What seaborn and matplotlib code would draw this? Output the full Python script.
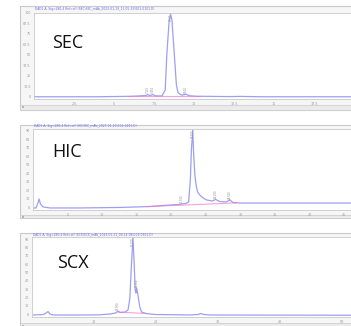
import numpy as np
import matplotlib
matplotlib.use("Agg")
import matplotlib.pyplot as plt
from matplotlib.patches import Rectangle
import seaborn as sns

# ---- chromatogram traces (time in min, signal in mAU) ----
sec_time = [0.0, 4.0, 6.0, 6.6, 7.0, 7.1, 7.25, 7.45, 7.6, 8.0, 8.2, 8.3, 8.44, 8.53,
            8.62, 8.75, 8.9, 9.0, 9.2, 9.4, 9.5, 9.7, 10.1, 12.2, 12.9, 14.1, 20.5]
sec_signal = [0.0, 0.0, 0.5, 1.0, 1.5, 2.5, 1.5, 2.5, 1.0, 1.0, 8.0, 50.0, 89.0, 99.0,
              92.0, 56.0, 14.0, 5.0, 2.0, 2.5, 3.0, 1.2, 0.6, 0.2, 0.4, 0.0, 0.0]

hic_time = [0.0, 0.43, 0.72, 0.87, 1.08, 1.45, 2.46, 6.8, 12.6, 16.9, 19.8, 21.2, 21.5,
            22.1, 22.5, 22.75, 22.9, 23.1, 23.2, 23.4, 23.6, 23.8, 24.1, 24.6, 25.1,
            25.9, 26.4, 27.0, 27.9, 28.5, 28.9, 29.9, 38.6, 47.0]
hic_signal = [-0.8, -0.8, 5.0, 9.8, 3.9, 0.4, -0.8, -0.8, -0.2, 0.9, 2.7, 3.3, 3.9,
              4.5, 6.2, 32.0, 67.0, 91.0, 67.0, 38.0, 25.0, 18.0, 14.5, 10.9, 8.6,
              7.4, 9.2, 6.8, 6.2, 8.6, 5.6, 5.0, 5.0, 5.0]

scx_time = [0.16, 1.9, 2.26, 2.6, 2.9, 3.4, 7.7, 11.0, 12.6, 13.5, 13.9, 14.2, 15.0,
            15.5, 15.8, 16.05, 16.3, 16.5, 16.66, 16.77, 16.9, 17.1, 17.4, 17.7, 18.4,
            19.8, 25.5, 26.8, 27.3, 27.7, 28.7, 53.0]
scx_signal = [-0.8, -0.2, 1.6, 3.3, 0.4, -0.8, -0.8, -0.6, 0.4, 1.6, 3.9, 2.2, 2.7,
              5.1, 19.5, 59.0, 91.8, 59.0, 29.0, 25.4, 31.4, 23.0, 8.7, 2.7, 1.0,
              -0.2, -0.8, -0.2, 1.0, -0.2, -0.8, -1.1]

# integration baselines (start/end time, signal)
sec_base_time, sec_base_signal = [5.9, 10.4], [0.3, 0.3]
hic_base_time, hic_base_signal = [16.5, 29.5], [0.8, 5.2]
scx_base_time, scx_base_signal = [13.9, 18.4], [2.6, 1.0]

# integrated peaks (retention times)
sec_peaks = [7.1, 7.45, 8.53, 9.5]
hic_peaks = [21.5, 23.1, 26.4, 28.5]
scx_peaks = [13.9, 16.3, 16.9]

# axis ticks
sec_xticks = [2.5, 5, 7.5, 10, 12.5, 15, 17.5]
sec_yticks = [0, 12.5, 25, 37.5, 50, 62.5, 75, 87.5, 100]
hic_xticks = [5, 10, 15, 20, 25, 30, 35, 40, 45]
hic_yticks = [0, 10, 20, 30, 40, 50, 60, 70, 80, 90]
scx_xticks = [10, 20, 30, 40, 50]
scx_yticks = [0, 10, 20, 30, 40, 50, 60, 70, 80, 90]

names = ["SEC", "HIC", "SCX"]
headers = [
    "DAD1 A, Sig=280,4 Ref=off (SEC\\SEC_mAb_2023-01-19_11-05-32\\001-0101.D)",
    "DAD1 A, Sig=280,4 Ref=off (HIC\\HIC_mAb_2023-01-20\\002-0201.D)",
    "DAD1 A, Sig=280,4 Ref=off (SCX\\SCX_mAb_2023-01-21_09-14-08\\003-0301.D)",
]

sns.set_style("white")
plt.rcParams["font.family"] = ["Open Sans", "DejaVu Sans"]

W, H = 351, 326
fig = plt.figure(figsize=(W / 100, H / 100), dpi=100)


def box(x0, y0, x1, y1):
    """Pixel box (top-left origin) -> figure fraction rect."""
    return [x0 / W, 1 - y1 / H, (x1 - x0) / W, (y1 - y0) / H]


bg = fig.add_axes([0, 0, 1, 1], zorder=0)
bg.set_xlim(0, W)
bg.set_ylim(H, 0)
bg.axis("off")

# layout of each window: frame, plot box, header y, scroll band, label position, limits
layout = [
    dict(frame=(20, 6, 358, 110), plot=(34, 13, 354, 99), head_y=9.3, scroll=(20, 104.5, 358, 110),
         label=(52, 43), xlim=(0, 20), ylim=(-2.7, 100)),
    dict(frame=(20, 125, 358, 218), plot=(33, 129, 356, 210), head_y=126.2, scroll=(20, 215, 358, 218),
         label=(52, 152), xlim=(0, 46.7), ylim=(-3.2, 92)),
    dict(frame=(20, 233, 358, 330), plot=(32, 237, 356, 317), head_y=234.6, scroll=(20, 322.5, 358, 330),
         label=(57, 263), xlim=(0, 52.3), ylim=(-3.2, 92.4)),
]

traces = [(sec_time, sec_signal), (hic_time, hic_signal), (scx_time, scx_signal)]
bases = [(sec_base_time, sec_base_signal), (hic_base_time, hic_base_signal),
         (scx_base_time, scx_base_signal)]
peaks = [sec_peaks, hic_peaks, scx_peaks]
xticks = [sec_xticks, hic_xticks, scx_xticks]
yticks = [sec_yticks, hic_yticks, scx_yticks]

frame_edge = "#c9c9c9"
trace_color = "#9494f2"
base_color = "#f07ad0"
tick_color = "#9a9a9a"

for i, lay in enumerate(layout):
    fx0, fy0, fx1, fy1 = lay["frame"]
    bg.add_patch(Rectangle((fx0, fy0), fx1 - fx0, fy1 - fy0, facecolor="#f6f6f6",
                           edgecolor=frame_edge, linewidth=0.8))
    sx0, sy0, sx1, sy1 = lay["scroll"]
    bg.add_patch(Rectangle((sx0, sy0), sx1 - sx0, sy1 - sy0, facecolor="#ebebeb",
                           edgecolor=frame_edge, linewidth=0.5))
    bg.add_patch(Rectangle((sx0 + 2, (sy0 + sy1) / 2 - 1), 2, 2, facecolor="#b5b5b5",
                           edgecolor="none"))
    bg.text(lay["plot"][0] + 1, lay["head_y"], headers[i], fontsize=2.2,
            color="#6a6af5", va="center", ha="left", family=["DejaVu Sans"])

    ax = fig.add_axes(box(*lay["plot"]), zorder=2)
    ax.set_facecolor("white")
    t, s = traces[i]
    sns.lineplot(x=t, y=s, ax=ax, color=trace_color, linewidth=0.9, alpha=0.9,
                 estimator=None, sort=False)
    bt, bs = bases[i]
    sns.lineplot(x=bt, y=bs, ax=ax, color=base_color, linewidth=0.8, alpha=0.7,
                 estimator=None, sort=False)
    ymax = lay["ylim"][1]
    for p in peaks[i]:
        top = np.interp(p, t, s)
        if top > 0.8 * ymax:
            # tall peak: label sits just inside the top edge, on the apex
            ax.text(p, ymax - 0.5, f"{p:.3f}", rotation=90, fontsize=1.8,
                    color="#8a8a8a", ha="center", va="top", family=["DejaVu Sans"])
        else:
            ax.text(p, top + 1.5, f"{p:.3f}", rotation=90, fontsize=1.8,
                    color="#8a8a8a", ha="center", va="bottom", family=["DejaVu Sans"])

    ax.set_xlim(*lay["xlim"])
    ax.set_ylim(*lay["ylim"])
    ax.set_xticks(xticks[i])
    ax.set_yticks(yticks[i])
    ax.set_xticklabels([f"{v:g}" for v in xticks[i]])
    ax.set_yticklabels([f"{v:g}" for v in yticks[i]])
    ax.tick_params(axis="both", labelsize=2.4, colors=tick_color, length=1.2,
                   width=0.4, pad=1.2)
    for lab in ax.get_xticklabels() + ax.get_yticklabels():
        lab.set_family("DejaVu Sans")
    ax.set_xlabel("")
    ax.set_ylabel("")
    for sp in ax.spines.values():
        sp.set_color(frame_edge)
        sp.set_linewidth(0.6)

# panel labels drawn above the plot boxes
top_layer = fig.add_axes([0, 0, 1, 1], zorder=10)
top_layer.set_xlim(0, W)
top_layer.set_ylim(H, 0)
top_layer.axis("off")
for i, lay in enumerate(layout):
    lx, ly = lay["label"]
    top_layer.text(lx, ly, names[i], fontsize=13, color="#111111", va="center", ha="left")

fig.savefig("out.png", dpi=100)
